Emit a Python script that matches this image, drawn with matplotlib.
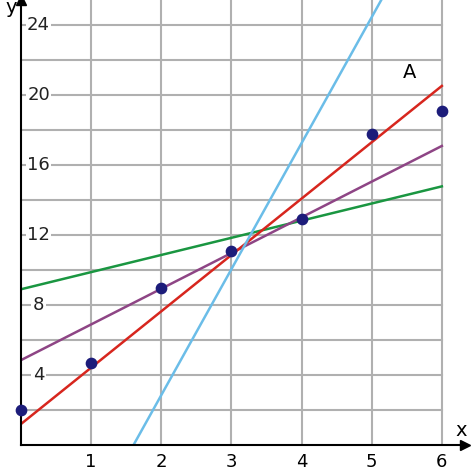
import matplotlib.pyplot as plt
import numpy as np

pts_x = [0, 1, 2, 3, 4, 5, 6]
pts_y = [2.0, 4.7, 9.0, 11.1, 12.9, 17.8, 19.1]
y_labels = [4, 8, 12, 16, 20, 24]

# lines as (intercept, slope)
red = (1.2, 3.22)
purple = (4.85, 2.04)
green = (8.9, 0.98)
blue = (-11.55, 7.2)

fig = plt.figure(figsize=(4.74, 4.72), dpi=100)
ax = fig.add_axes([21 / 474, 27 / 472, 444 / 474, 445 / 472])
ax.set_xlim(0, 6.33)
ax.set_ylim(0, 25.43)

for gx in range(1, 7):
    ax.axvline(gx, color='#b0b0b0', lw=1.5, zorder=0)
for gy in range(2, 25, 2):
    ax.plot([0, 6], [gy, gy], color='#b0b0b0', lw=1.5, zorder=0)

xs = np.array([0, 6])
ax.plot(xs, green[0] + green[1] * xs, color='#1a9641', lw=1.8)
ax.plot(xs, purple[0] + purple[1] * xs, color='#8e4585', lw=1.8)
ax.plot(xs, red[0] + red[1] * xs, color='#d7261e', lw=1.8)
ax.plot(xs, blue[0] + blue[1] * xs, color='#6bbde8', lw=1.8)
ax.scatter(pts_x, pts_y, s=55, color='#1c1c7a', zorder=5, clip_on=False)

for v in y_labels:
    ax.text(0.25, v, str(v), fontsize=13, ha='center', va='center', color='#222222',
            bbox=dict(facecolor='white', edgecolor='none', pad=1), zorder=3)

ax.text(5.45, 21.0, 'A', fontsize=14)
for s in ['top', 'right']:
    ax.spines[s].set_visible(False)
ax.spines['left'].set_linewidth(1.5)
ax.spines['bottom'].set_linewidth(1.5)
ax.plot(1, 0, '>k', transform=ax.transAxes, clip_on=False, ms=7)
ax.plot(0, 1, '^k', transform=ax.transAxes, clip_on=False, ms=7)
ax.set_xticks(range(1, 7))
ax.set_yticks([])
ax.tick_params(labelsize=13, length=0, pad=6)
ax.text(6.2, 0.5, 'x', fontsize=14)
ax.text(-0.22, 24.7, 'y', fontsize=14)
fig.savefig('out.png')
